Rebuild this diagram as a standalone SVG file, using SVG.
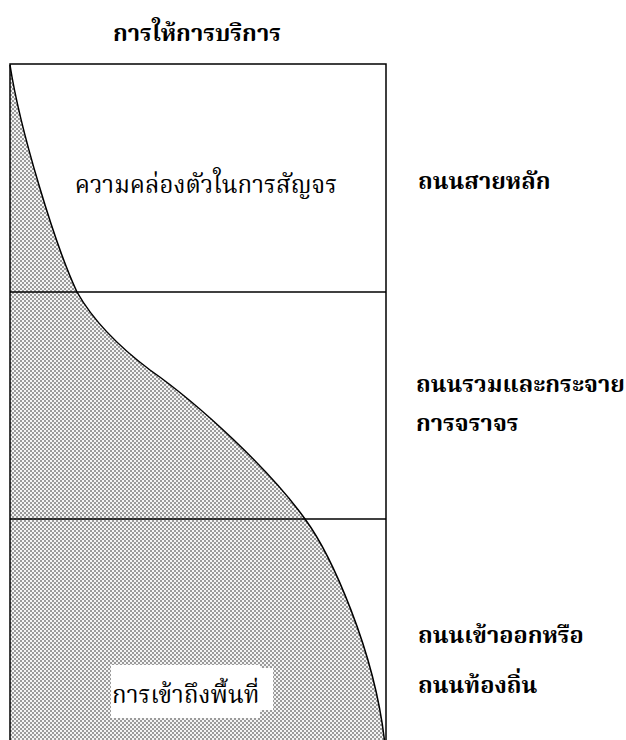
<svg xmlns="http://www.w3.org/2000/svg" width="626" height="740" viewBox="0 0 626 740">
<style>
.t{font-family:"Noto Serif Thai","Noto Sans Thai","Noto Sans","DejaVu Sans",sans-serif;font-size:24px;fill:#000}
.b{font-weight:bold;font-size:23.5px}
.ln{stroke:#000;stroke-width:1.5;fill:none}
</style>
<defs>
<pattern id="dots" width="4" height="4" patternUnits="userSpaceOnUse">
<rect width="4" height="4" fill="#f4f4f4"/>
<rect width="2" height="2" fill="#9a9a9a"/>
<rect x="2" y="2" width="2" height="2" fill="#9a9a9a"/>
</pattern>
</defs>
<rect width="626" height="740" fill="#fff"/>
<g id="title"><text class="t b" x="197" y="41" text-anchor="middle">การให้การบริการ</text></g>
<g id="shade">
<path d="M10,65 C20,130 55,245 77,292 C90,315 110,340 150,370 C200,405 270,470 305,519 C330,553 375,650 385,745 L10,745 Z" fill="url(#dots)"/>
</g>
<g id="frame">
<polyline class="ln" points="10,745 10,64 386,64 386,745"/>
<line class="ln" x1="10" y1="292" x2="386" y2="292"/>
<line class="ln" x1="10" y1="519" x2="386" y2="519"/>
</g>
<g id="curve">
<path class="ln" d="M10,65 C20,130 55,245 77,292 C90,315 110,340 150,370 C200,405 270,470 305,519 C330,553 375,650 385,745"/>
</g>
<g id="mobility"><text class="t" x="206" y="193" text-anchor="middle">ความคล่องตัวในการสัญจร</text></g>
<g id="access">
<polygon points="111,665 260,665 260,668 273,668 273,710 260,710 260,718 111,718" fill="#fff"/>
<text class="t" x="112" y="703">การเข้าถึงพื้นที่</text>
</g>
<g id="arterial"><text class="t b" x="418" y="189">ถนนสายหลัก</text></g>
<g id="collector"><text class="t b" x="416" y="392">ถนนรวมและกระจาย</text><text class="t b" x="416" y="431">การจราจร</text></g>
<g id="local"><text class="t b" x="418" y="643">ถนนเข้าออกหรือ</text><text class="t b" x="418" y="693">ถนนท้องถิ่น</text></g>
</svg>
